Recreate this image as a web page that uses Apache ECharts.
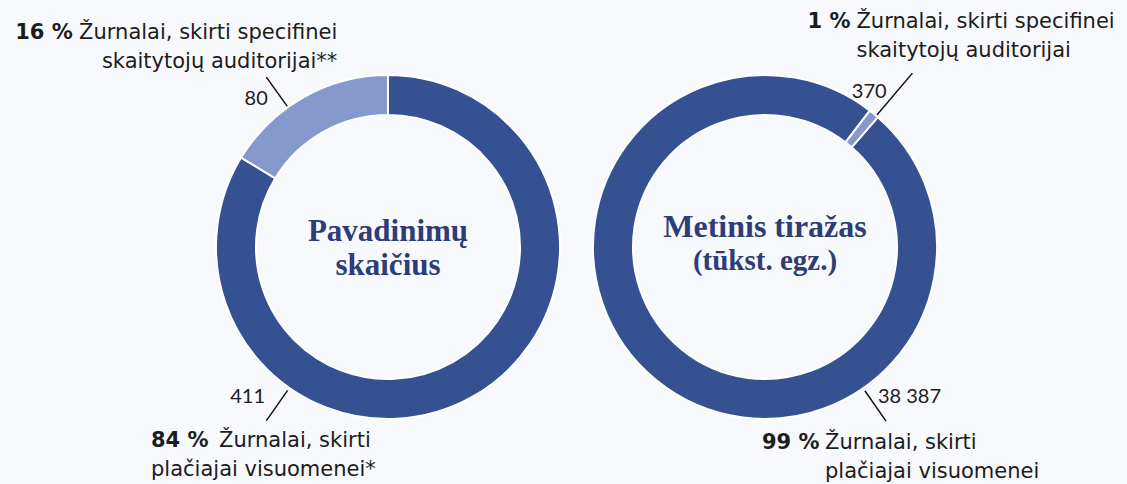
<!DOCTYPE html>
<html><head><meta charset="utf-8">
<script src="https://cdn.jsdelivr.net/npm/echarts@6/dist/echarts.min.js"></script>
<style>html,body{margin:0;padding:0;background:#f8f9fd}#c{width:1127px;height:484px}</style>
</head><body><div id="c"></div>
<script>
// ---- data ----
const countTitle = ['Pavadinimų', 'skaičius'];
const circTitle = ['Metinis tiražas', '(tūkst. egz.)'];
const countNames = [['Žurnalai, skirti', 'plačiajai visuomenei*'], ['Žurnalai, skirti specifinei', 'skaitytojų auditorijai**']];
const countValues = [411, 80];
const circNames = [['Žurnalai, skirti', 'plačiajai visuomenei'], ['Žurnalai, skirti specifinei', 'skaitytojų auditorijai']];
const circValues = [38387, 370];

// ---- style / layout ----
const DARK = '#355192', LIGHT = '#8699cc', INK = '#1c1c1c', NAVY = '#2c3d78', BG = '#f8f9fd';
const COLORS = [DARK, LIGHT];
const CENTERS = [[388, 247], [765, 247]];
const RADIUS = [132, 172];
const START = [90, 49];
const NUM_FONT = 'Lato';
const NAME_FONT = 'DejaVu Sans';
// leader line angle (deg), radii, value label offset from line midpoint, name block offset from line end
const LAYOUT = [
  [
    { ang: -125.0, r1: 175, r2: 212, v: { dx: -12, dy: -11, align: 'right' }, n: { dx: -3, dy: 33.5, align: 'center', indent: 63 } },
    { ang: 125.6, r1: 173, r2: 209, v: { dx: -9, dy: 5.5, align: 'right' }, n: { dx: 71, dy: -30.5, align: 'right', indent: 64 } }
  ],
  [
    { ang: -55.2, r1: 175, r2: 212, v: { dx: 2.5, dy: -11, align: 'left' }, n: { dx: -124, dy: 35, align: 'left', indent: 63 } },
    { ang: 49.7, r1: 173, r2: 228, v: { dx: -8, dy: -4, align: 'right' }, n: { dx: -105, dy: -37.5, align: 'left', indent: 49 } }
  ]
];

function polar(c, r, deg) { const a = deg * Math.PI / 180; return [c[0] + r * Math.cos(a), c[1] - r * Math.sin(a)]; }
function fmt(v) { return String(v).replace(/\B(?=(\d{3})+(?!\d))/g, ' '); }
function linePts(ci, di) {
  const L = LAYOUT[ci][di];
  return [polar(CENTERS[ci], L.r1, L.ang), polar(CENTERS[ci], L.r2, L.ang)];
}

function buildSeries(ci, values, names) {
  const total = values.reduce((a, b) => a + b, 0);
  const base = {
    type: 'pie', center: CENTERS[ci], radius: RADIUS, startAngle: START[ci], clockwise: true,
    avoidLabelOverlap: false, animation: false, emphasis: { disabled: true }
  };
  const ring = Object.assign({}, base, {
    data: values.map((v, i) => ({ value: v, name: names[i].join(' '), itemStyle: { color: COLORS[i] } })),
    itemStyle: { borderColor: '#ffffff', borderWidth: 2 },
    label: { show: true, position: 'outside', formatter: p => fmt(p.value), fontFamily: NUM_FONT, fontSize: 20, color: INK },
    labelLine: { show: true, length: 10, length2: 0, lineStyle: { color: '#111', width: 1.5 } },
    labelLayout: params => {
      const L = LAYOUT[ci][params.dataIndex];
      const [p1, p2] = linePts(ci, params.dataIndex);
      const m = [(p1[0] + p2[0]) / 2, (p1[1] + p2[1]) / 2];
      return { x: m[0] + L.v.dx, y: m[1] + L.v.dy, align: L.v.align, verticalAlign: 'middle', labelLinePoints: [p1, p2, p2] };
    }
  });
  const nameSeries = Object.assign({}, base, {
    silent: true,
    data: values.map((v, i) => {
      const L = LAYOUT[ci][i];
      const pct = Math.round(v / total * 100);
      const left = L.n.align === 'left';
      const txt = '{p|' + pct + ' %}{n|' + names[i][0] + '}\n' + (left ? '{s| }' : '') + '{n|' + names[i][1] + '}';
      return {
        value: v, name: names[i].join(' '),
        label: {
          formatter: txt,
          rich: {
            p: { fontFamily: NAME_FONT, fontWeight: 'bold', fontSize: 21, color: INK, lineHeight: 29, width: L.n.indent, align: 'left' },
            n: { fontFamily: NAME_FONT, fontSize: 21, color: INK, lineHeight: 29 },
            s: { fontFamily: NAME_FONT, fontSize: 21, lineHeight: 29, width: L.n.indent }
          }
        }
      };
    }),
    itemStyle: { color: 'rgba(0,0,0,0)', borderWidth: 0 },
    label: { show: true, position: 'outside' },
    labelLine: { show: false },
    labelLayout: params => {
      const L = LAYOUT[ci][params.dataIndex];
      const p2 = linePts(ci, params.dataIndex)[1];
      return { x: p2[0] + L.n.dx, y: p2[1] + L.n.dy, align: L.n.align, verticalAlign: 'middle' };
    }
  });
  return [ring, nameSeries];
}

const serifStyle = { fontFamily: 'Liberation Serif', fontWeight: 'bold', color: NAVY };
const option = {
  backgroundColor: BG,
  animation: false,
  title: [
    {
      text: '{a|' + countTitle[0] + '}\n{a|' + countTitle[1] + '}',
      left: CENTERS[0][0], top: 213, padding: 0, textAlign: 'center',
      textStyle: { rich: { a: Object.assign({ fontSize: 31, lineHeight: 34 }, serifStyle) } }
    },
    {
      text: '{a|' + circTitle[0] + '}\n{b|' + circTitle[1] + '}',
      left: CENTERS[1][0], top: 210, padding: 0, textAlign: 'center',
      textStyle: { rich: { a: Object.assign({ fontSize: 32, lineHeight: 32 }, serifStyle), b: Object.assign({ fontSize: 29, lineHeight: 36 }, serifStyle) } }
    }
  ],
  series: [].concat(buildSeries(0, countValues, countNames), buildSeries(1, circValues, circNames))
};
const chart = echarts.init(document.getElementById('c'), null, { renderer: 'svg' });
chart.setOption(option);
</script></body></html>
